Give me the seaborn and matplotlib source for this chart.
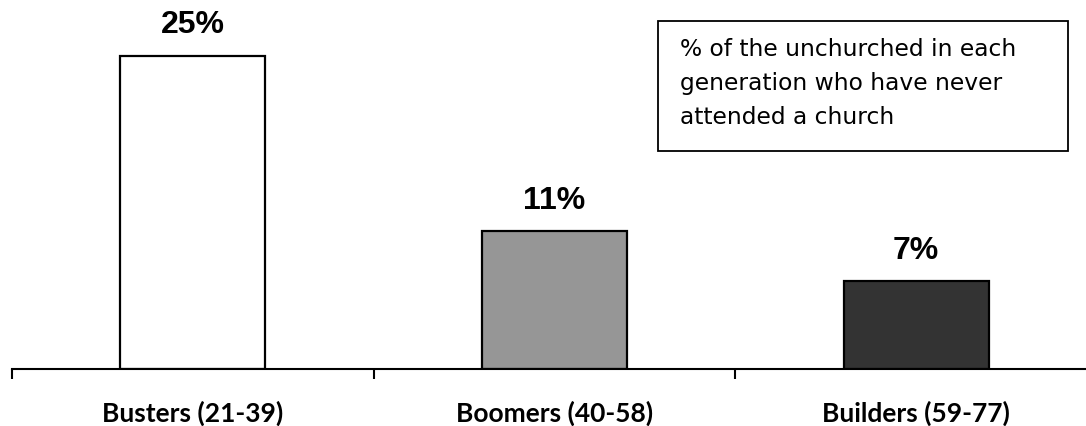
import matplotlib
matplotlib.use("Agg")
import matplotlib.pyplot as plt
import seaborn as sns
import pandas as pd

# Survey figures
generations = ["Busters (21-39)", "Boomers (40-58)", "Builders (59-77)"]
never_attended = [25, 11, 7]
bar_colors = ["#ffffff", "#969696", "#333333"]
note_text = "% of the unchurched in each\ngeneration who have never\nattended a church"

sns.set_theme(style="white")
plt.rcParams["font.family"] = ["Lato", "DejaVu Sans"]

df = pd.DataFrame({"generation": generations, "pct": never_attended})

W, H = 1086, 427
fig = plt.figure(figsize=(W / 100, H / 100), dpi=100)
ax = fig.add_axes([12 / W, 57 / H, 1085 / W, 370 / H])

sns.barplot(data=df, x="generation", y="pct", hue="generation",
            palette=bar_colors, order=generations, hue_order=generations,
            width=0.4, edgecolor="black", linewidth=1.6, legend=False, ax=ax)

ax.set_xlim(-0.5, 2.5)
ax.set_ylim(0, 370 / 12.52)

# Value labels above bars
for i, v in enumerate(never_attended):
    ax.annotate(f"{v}%", (i, v), xytext=(0, 12), textcoords="offset points",
                ha="center", va="bottom", fontsize=23, fontweight="bold",
                family=["Liberation Sans", "DejaVu Sans"], color="black")

# Category axis: boundary ticks, labels centred under bars
ax.set_xticks([-0.5, 0.5, 1.5, 2.5])
ax.set_xticklabels([])
ax.tick_params(axis="x", which="major", direction="out", length=7, width=1.5,
               color="black", bottom=True)
ax.set_xticks([0, 1, 2], minor=True)
ax.set_xticklabels(generations, minor=True, fontsize=19, fontweight="bold",
                   color="black")
ax.tick_params(axis="x", which="minor", length=0, pad=22)

ax.set_yticks([])
ax.set_xlabel("")
ax.set_ylabel("")
for side in ["top", "right", "left"]:
    ax.spines[side].set_visible(False)
ax.spines["bottom"].set_color("black")
ax.spines["bottom"].set_linewidth(1.5)

# Note box
fig.text(680 / W, 1 - 38 / H, note_text, ha="left", va="top", fontsize=16.8,
         linespacing=1.62, color="black", family=["DejaVu Sans"])
rect = plt.Rectangle((658 / W, 1 - 152 / H), (1068 - 658) / W, (152 - 22) / H,
                     transform=fig.transFigure, fill=False, ec="black", lw=1.3)
fig.add_artist(rect)

fig.savefig("out.png", dpi=100, facecolor="white")
